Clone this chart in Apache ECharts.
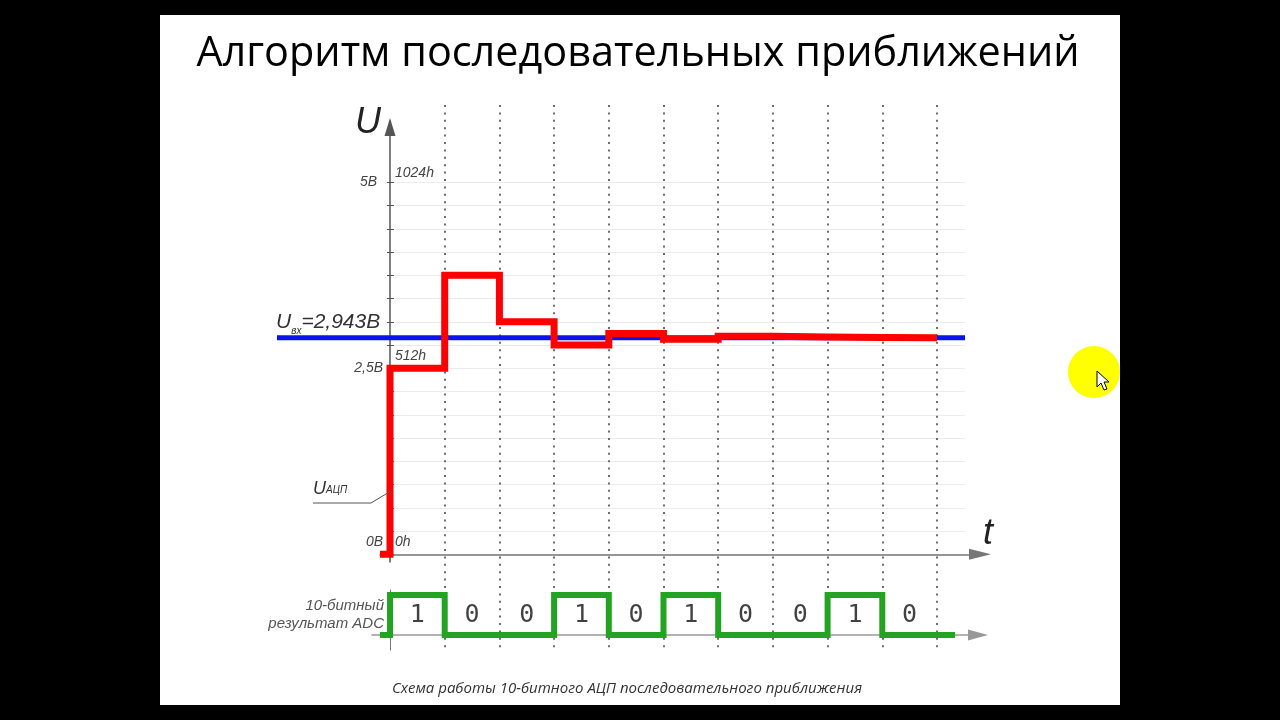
<!DOCTYPE html>
<html>
<head>
<meta charset="utf-8">
<script src="https://cdn.jsdelivr.net/npm/echarts@6/dist/echarts.min.js"></script>
<style>
html,body{margin:0;padding:0;background:#000;}
#c{width:1280px;height:720px;}
</style>
</head>
<body>
<div id="c"></div>
<script>
// ---- data ----
const titleText = 'Алгоритм последовательных приближений';
const captionText = 'Схема работы 10-битного АЦП последовательного приближения';
// DAC code (0..1024) tried at each of the 10 conversion steps
const dacCodes = [512, 768, 640, 576, 608, 592, 600, 598, 597, 596];
// resulting bits
const bits = [1, 0, 0, 1, 0, 1, 0, 0, 1, 0];
// input voltage level (in code units, as drawn) — label 2,943В
const inputLevel = 596;
const inputLabel = '=2,943В';
// y-axis labels
const voltLabels = {0: '0В', 512: '2,5В', 1024: '5В'};
const codeLabels = {0: '0h', 512: '512h', 1024: '1024h'};
const tickStep = 64;
const codeMax = 1024;

// ---- geometry (pixels) ----
const X0 = 390, DX = 54.7;          // t=0 at x=390, one step = 54.7px
const Y0 = 554.3, K = 372 / 1024;   // code 0 at y=554.3
const tx = x => (x - X0) / DX;
const cy = y => (Y0 - y) / K;

// series vertices
const redPts = [[tx(380), 0], [0, 0]];
dacCodes.forEach((c, i) => { redPts.push([i, c]); redPts.push([i + 1, c]); });
const bluePts = [[tx(277), inputLevel], [tx(965), inputLevel]];
const greenPts = [[tx(380), 0], [0, 0]];
bits.forEach((b, i) => { greenPts.push([i, b]); greenPts.push([i + 1, b]); });
greenPts.push([tx(955), bits[bits.length - 1]]);
const bitLabels = bits.map((b, i) => [i + 0.5, 0.5, String(b)]);

const chart = echarts.init(document.getElementById('c'), null, {renderer: 'canvas'});
const lblFont = 'Liberation Sans, Arial, sans-serif';

chart.setOption({
  animation: false,
  backgroundColor: '#000',
  grid: [
    // 0: analog plot (horizontal faint grid, ticks, labels)
    {left: X0, top: Y0 - 372, width: 965 - X0, height: 372},
    // 1: main axes with arrows
    {left: 380, top: 127, width: 600, height: 562 - 127},
    // 2: digital result
    {left: 372, top: 590, width: 978 - 372, height: 60},
    // 3: dotted verticals
    {left: X0 + DX, top: 105, width: 9 * DX, height: 545},
    // 4: analog curves (wide x range so the input level reaches the label)
    {left: 277, top: Y0 - 372, width: 965 - 277, height: 372}
  ],
  xAxis: [
    {gridIndex: 0, type: 'value', min: 0, max: tx(965), show: false},
    {gridIndex: 1, type: 'value', min: tx(380), max: tx(980),
     axisLine: {show: true, onZero: true, symbol: ['none', 'triangle'], symbolSize: [11, 22],
       lineStyle: {color: '#777', width: 1.5}},
     axisTick: {show: false}, axisLabel: {show: false}, splitLine: {show: false}},
    {gridIndex: 2, type: 'value', min: tx(372), max: tx(978),
     axisLine: {show: true, onZero: true, symbol: ['none', 'triangle'], symbolSize: [11, 20],
       lineStyle: {color: '#999', width: 1.5}},
     axisTick: {show: false}, axisLabel: {show: false}, splitLine: {show: false}},
    {gridIndex: 3, type: 'value', min: 1, max: 10, interval: 1,
     axisLine: {show: false}, axisTick: {show: false}, axisLabel: {show: false},
     splitLine: {show: true, lineStyle: {color: '#6e6e6e', width: 2, type: [2, 5.4]}}},
    {gridIndex: 4, type: 'value', min: tx(277), max: tx(965), show: false}
  ],
  yAxis: [
    {gridIndex: 0, type: 'value', min: 0, max: codeMax, interval: tickStep,
     axisLine: {show: false},
     axisTick: {show: true, length: 3, lineStyle: {color: '#555', width: 1}},
     axisLabel: {show: true, margin: 7, fontFamily: lblFont, fontStyle: 'italic', fontSize: 14, color: '#444',
       formatter: v => voltLabels[v] === undefined ? '' : (v === 0 ? '{up|' + voltLabels[v] + '}' : (v === codeMax ? '{top|' + voltLabels[v] + '}' : voltLabels[v])),
       rich: {up: {padding: [0, 0, 24, 0], fontFamily: lblFont, fontStyle: 'italic', fontSize: 14, color: '#444'},
              top: {padding: [0, 6, 0, 0], fontFamily: lblFont, fontStyle: 'italic', fontSize: 14, color: '#444'}}},
     splitLine: {show: true, lineStyle: {color: '#ececec', width: 1}}},
    {gridIndex: 0, type: 'value', min: 0, max: codeMax, interval: tickStep, position: 'left', offset: 0,
     axisLine: {show: false},
     axisTick: {show: true, inside: true, length: 4, lineStyle: {color: '#555', width: 1}},
     axisLabel: {show: true, inside: true, margin: 5, fontFamily: lblFont, fontStyle: 'italic', fontSize: 14, color: '#444',
       formatter: v => codeLabels[v] === undefined ? '' : (v === codeMax ? '{a|' + codeLabels[v] + '}' : '{b|' + codeLabels[v] + '}'),
       rich: {a: {padding: [0, 0, 18, 0], fontFamily: lblFont, fontStyle: 'italic', fontSize: 14, color: '#444'},
              b: {padding: [0, 0, 24, 0], fontFamily: lblFont, fontStyle: 'italic', fontSize: 14, color: '#444'}}},
     splitLine: {show: false}},
    {gridIndex: 1, type: 'value', min: cy(562), max: cy(127),
     axisLine: {show: true, onZero: true, symbol: ['none', 'triangle'], symbolSize: [11, 18],
       lineStyle: {color: '#555', width: 1.5}},
     axisTick: {show: false}, axisLabel: {show: false}, splitLine: {show: false}},
    {gridIndex: 2, type: 'value', min: -15 / 40, max: 45 / 40,
     axisLine: {show: true, onZero: true, lineStyle: {color: '#777', width: 1}},
     axisTick: {show: false}, axisLabel: {show: false}, splitLine: {show: false}},
    {gridIndex: 3, type: 'value', min: 0, max: 1, show: false},
    {gridIndex: 4, type: 'value', min: 0, max: codeMax, show: false}
  ],
  series: [
    {type: 'line', xAxisIndex: 4, yAxisIndex: 5, data: bluePts, clip: false, symbol: 'none', z: 3,
     lineStyle: {color: '#0a14e6', width: 5, cap: 'butt'}},
    {type: 'line', xAxisIndex: 4, yAxisIndex: 5, data: redPts, clip: false, symbol: 'none', z: 4,
     lineStyle: {color: '#ff0000', width: 7, cap: 'butt', join: 'miter'}},
    {type: 'line', xAxisIndex: 2, yAxisIndex: 3, data: greenPts, clip: false, symbol: 'none', z: 4,
     lineStyle: {color: '#22a322', width: 6, cap: 'butt', join: 'miter'}},
    {type: 'scatter', xAxisIndex: 2, yAxisIndex: 3, data: bitLabels, symbolSize: 0, z: 5,
     label: {show: true, position: 'inside', formatter: p => p.data[2],
       fontFamily: 'DejaVu Sans Mono, monospace', fontSize: 25, color: '#111'}}
  ],
  graphic: [
    {type: 'rect', z: -10, silent: true, shape: {x: 160, y: 15, width: 960, height: 690}, style: {fill: '#fff'}},
    {type: 'text', z: 10, style: {text: titleText, x: 638, y: 54, font: '41.4px "Open Sans", sans-serif', fill: '#000',
      align: 'center', verticalAlign: 'middle', textAlign: 'center', textVerticalAlign: 'middle'}},
    {type: 'text', z: 10, style: {text: 'U', x: 355, y: 123, font: 'italic 36px ' + lblFont, fill: '#222',
      align: 'left', verticalAlign: 'middle', textAlign: 'left', textVerticalAlign: 'middle'}},
    {type: 'text', z: 10, style: {text: 't', x: 983, y: 534, font: 'italic 36px ' + lblFont, fill: '#222',
      align: 'left', verticalAlign: 'middle', textAlign: 'left', textVerticalAlign: 'middle'}},
    {type: 'text', z: 10, style: {text: '{u|U}{s|вх}{n|' + inputLabel + '}', x: 276, y: 333,
      align: 'left', verticalAlign: 'bottom', textAlign: 'left', textVerticalAlign: 'bottom',
      rich: {u: {font: 'italic 21px ' + lblFont, fill: '#333', color: '#333'},
             s: {font: 'italic 10px ' + lblFont, fill: '#333', color: '#333', verticalAlign: 'bottom', padding: [0, 0, -3, 0]},
             n: {font: 'italic 21px ' + lblFont, fill: '#333', color: '#333'}}}},
    {type: 'text', z: 10, style: {text: '{u|U}{s|АЦП}', x: 313, y: 498,
      align: 'left', verticalAlign: 'bottom', textAlign: 'left', textVerticalAlign: 'bottom',
      rich: {u: {font: 'italic 18px ' + lblFont, fill: '#333', color: '#333'},
             s: {font: 'italic 10px ' + lblFont, fill: '#333', color: '#333', padding: [0, 0, -3, 0]}}}},
    {type: 'polyline', z: 10, shape: {points: [[313, 503], [371, 503], [391, 491]]}, style: {stroke: '#555', lineWidth: 1, fill: null}},
    {type: 'text', z: 10, style: {text: '10-битный', x: 384, y: 606, font: 'italic 15px ' + lblFont, fill: '#555',
      align: 'right', verticalAlign: 'middle', textAlign: 'right', textVerticalAlign: 'middle'}},
    {type: 'text', z: 10, style: {text: 'результат ADC', x: 384, y: 624, font: 'italic 15px ' + lblFont, fill: '#555',
      align: 'right', verticalAlign: 'middle', textAlign: 'right', textVerticalAlign: 'middle'}},
    {type: 'text', z: 10, style: {text: captionText, x: 627, y: 689, font: 'italic 15px "Open Sans", sans-serif', fill: '#333',
      align: 'center', verticalAlign: 'middle', textAlign: 'center', textVerticalAlign: 'middle'}},
    {type: 'circle', z: 20, shape: {cx: 1094, cy: 372, r: 26}, style: {fill: '#ffff00'}},
    {type: 'polygon', z: 21, shape: {points: [[1097, 371], [1097, 387], [1101, 383], [1104, 390], [1107, 389], [1104, 382], [1109, 382]]},
     style: {fill: '#fff', stroke: '#000', lineWidth: 1}}
  ]
});
</script>
</body>
</html>
